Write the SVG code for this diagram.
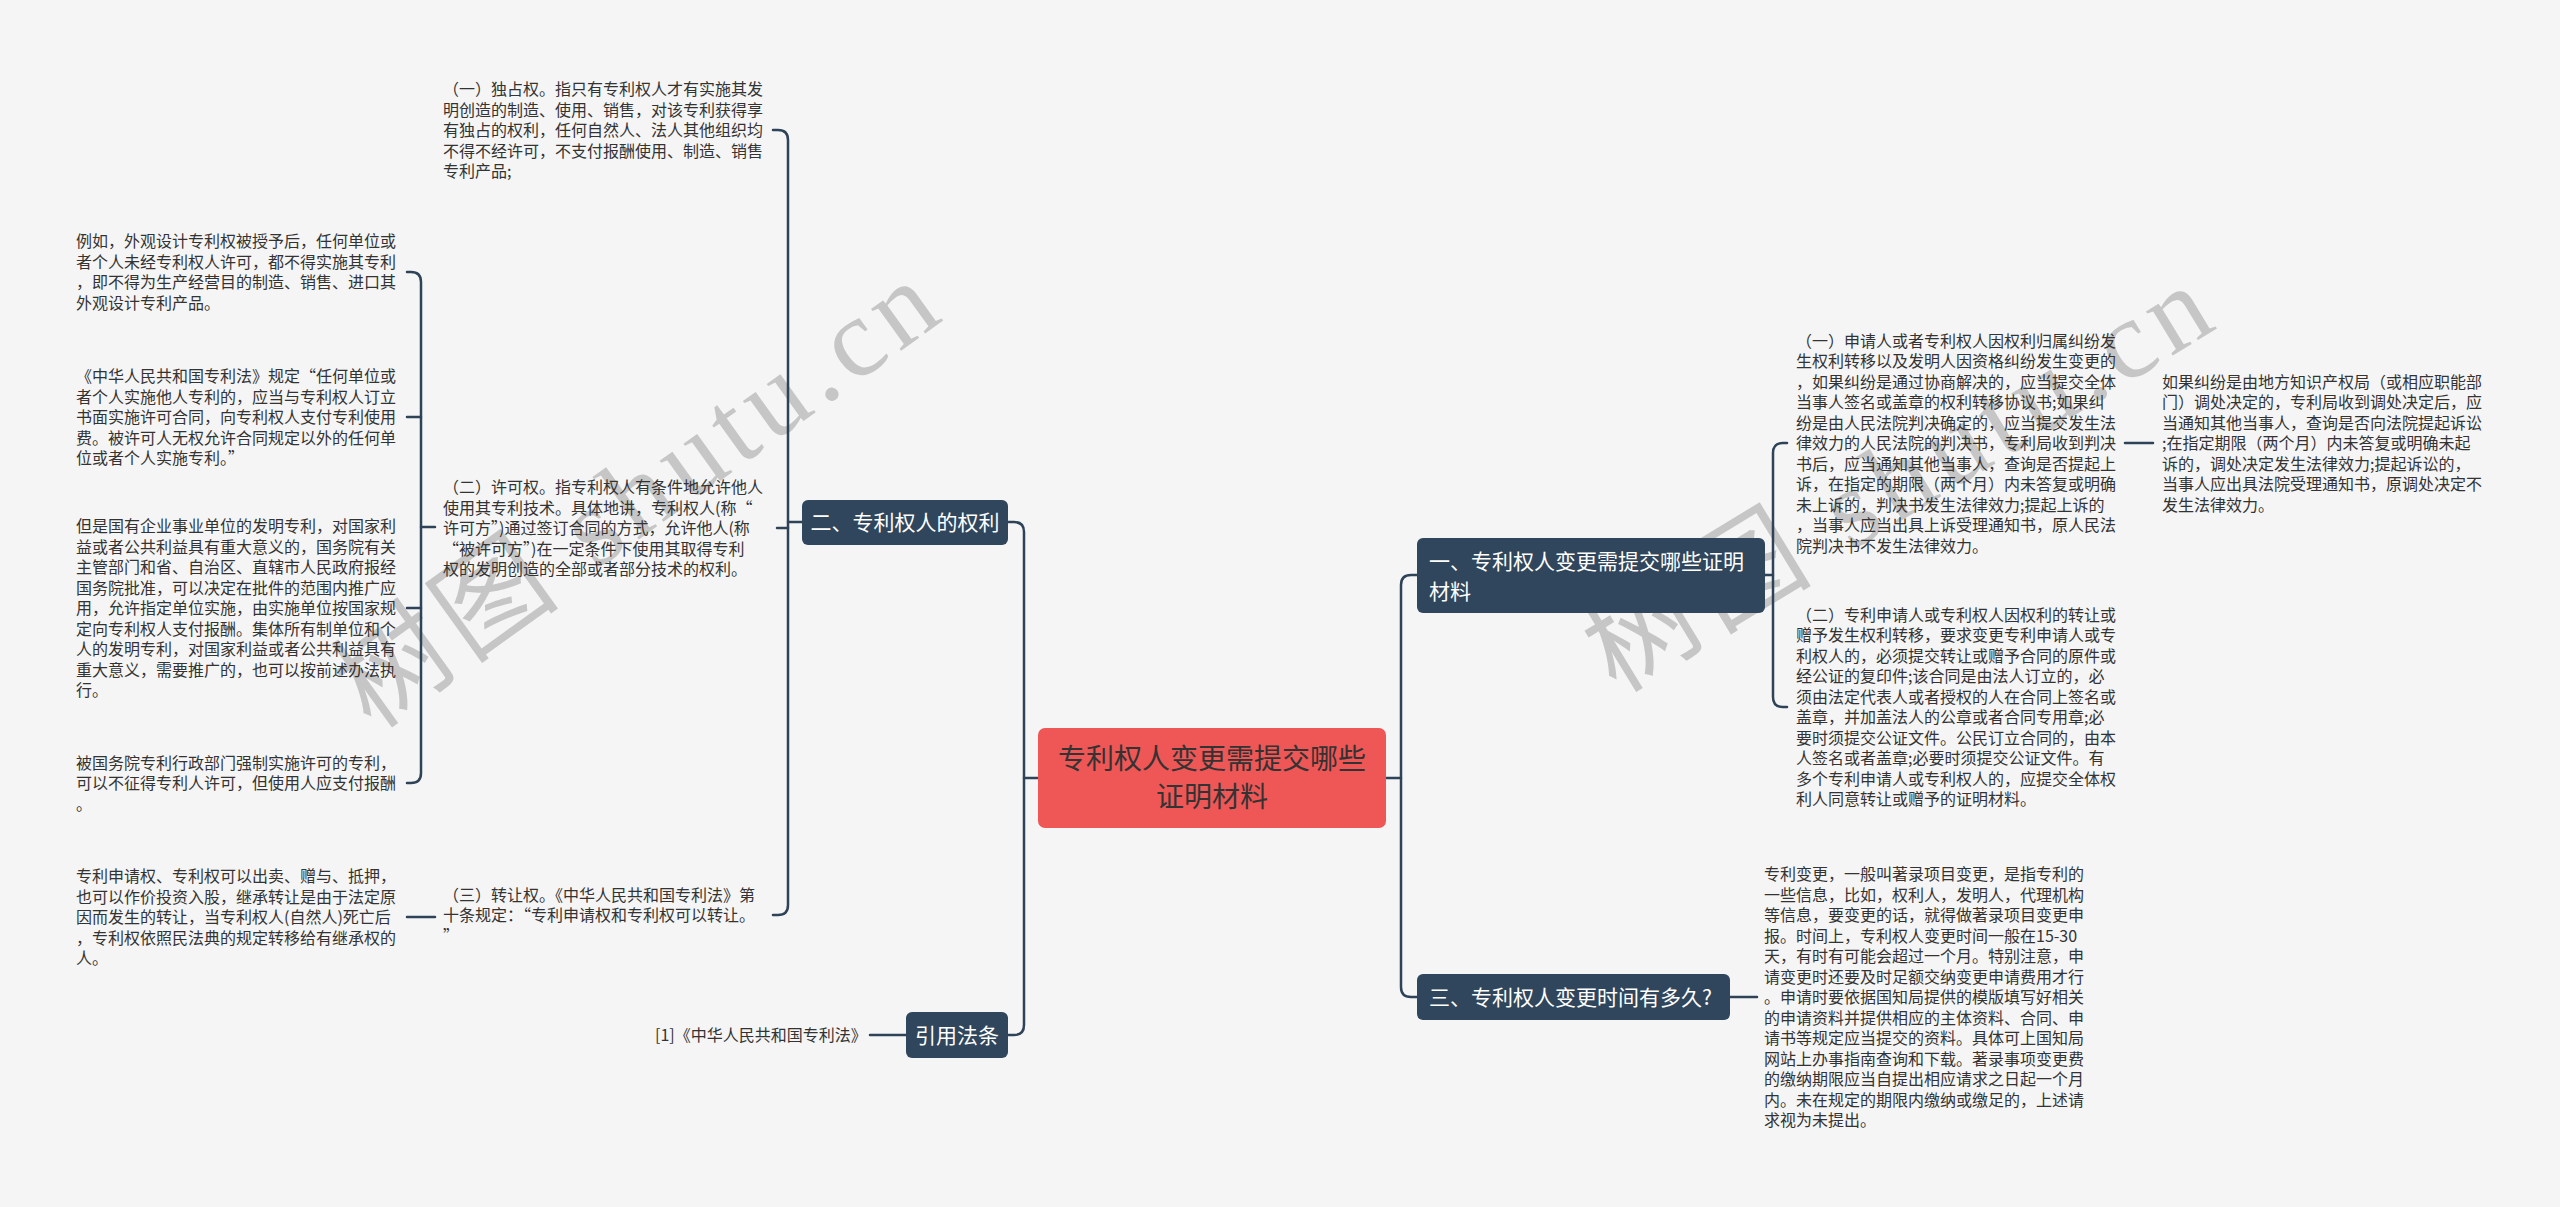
<svg xmlns="http://www.w3.org/2000/svg" width="2560" height="1207" viewBox="0 0 2560 1207">
<style>
.t{font-family:"Noto Sans CJK SC","Noto Sans",sans-serif;font-size:16px;fill:#333333}
.nt{font-family:"Noto Sans CJK SC","Noto Sans",sans-serif;font-size:21px;fill:#ffffff}
.ct{font-family:"Noto Sans CJK SC","Noto Sans",sans-serif;font-size:28px;fill:#333333}
.node{fill:#30465c}
.wm{font-family:"Liberation Serif","Noto Sans CJK SC",serif;font-size:112px;fill:#c6c6c6}
.c{fill:none;stroke:#2e4258;stroke-width:2.5;stroke-linecap:round}
</style>
<rect x="0" y="0" width="2560" height="1207" fill="#f5f5f6"/>
<g id="watermarks">
<text class="wm" transform="translate(372,731) rotate(-35.7)" textLength="705" lengthAdjust="spacing">树图 shutu.cn</text>
<text class="wm" transform="translate(1616,694) rotate(-31.3)" textLength="705" lengthAdjust="spacing">树图 shutu.cn</text>
</g>
<g id="connectors">
<path class="c" d="M1024,778 H1038"/>
<path class="c" d="M1008,522 H1014 Q1024,522 1024,532 V1025 Q1024,1035 1014,1035 H1008"/>
<path class="c" d="M1386,778 H1401"/>
<path class="c" d="M1417,575 H1411 Q1401,575 1401,585 V987 Q1401,997 1411,997 H1417"/>
<path class="c" d="M788,522 H802"/>
<path class="c" d="M773,130 H778 Q788,130 788,140 V905 Q788,915 778,915 H773"/>
<path class="c" d="M777,528 H788"/>
<path class="c" d="M407,272 H411 Q421,272 421,282 V773 Q421,783 411,783 H407"/>
<path class="c" d="M407,417 H421"/>
<path class="c" d="M407,608 H421"/>
<path class="c" d="M421,527 H435"/>
<path class="c" d="M407,917 H435"/>
<path class="c" d="M870,1035 H906"/>
<path class="c" d="M1765,575 H1773"/>
<path class="c" d="M1787,443 H1783 Q1773,443 1773,453 V697 Q1773,707 1783,707 H1787"/>
<path class="c" d="M2125,443 H2153"/>
<path class="c" d="M1730,997 H1757"/>
</g>
<g id="center">
<rect x="1038" y="728" width="348" height="100" rx="7" fill="#ef5656"/>
<text class="ct" text-anchor="middle"><tspan x="1212" y="769.4">专利权人变更需提交哪些</tspan><tspan x="1212" y="807.4">证明材料</tspan></text>
</g>
<g id="node-er">
<rect class="node" x="802" y="500" width="206" height="45" rx="6"/>
<text class="nt" x="905" y="529.7" text-anchor="middle">二、专利权人的权利</text>
</g>
<g id="node-yinyong">
<rect class="node" x="906" y="1012" width="102" height="46" rx="6"/>
<text class="nt" x="957" y="1042.7" text-anchor="middle">引用法条</text>
</g>
<g id="node-yi">
<rect class="node" x="1417" y="538" width="348" height="75" rx="6"/>
<text class="nt"><tspan x="1429" y="568.7">一、专利权人变更需提交哪些证明</tspan><tspan x="1429" y="598.7">材料</tspan></text>
</g>
<g id="node-san">
<rect class="node" x="1417" y="974" width="313" height="46" rx="6"/>
<text class="nt" x="1429" y="1004.7">三、专利权人变更时间有多久?</text>
</g>
<g id="text-duzhan">
<text class="t"><tspan x="443" y="95">（一）独占权。指只有专利权人才有实施其发</tspan><tspan x="443" y="115.5">明创造的制造、使用、销售，对该专利获得享</tspan><tspan x="443" y="136">有独占的权利，任何自然人、法人其他组织均</tspan><tspan x="443" y="156.5">不得不经许可，不支付报酬使用、制造、销售</tspan><tspan x="443" y="177">专利产品;</tspan></text>
</g>
<g id="text-xuke">
<text class="t"><tspan x="443" y="493">（二）许可权。指专利权人有条件地允许他人</tspan><tspan x="443" y="513.5">使用其专利技术。具体地讲，专利权人(称“</tspan><tspan x="443" y="534">许可方”)通过签订合同的方式，允许他人(称</tspan><tspan x="443" y="554.5">“被许可方”)在一定条件下使用其取得专利</tspan><tspan x="443" y="575">权的发明创造的全部或者部分技术的权利。</tspan></text>
</g>
<g id="text-zhuanrang">
<text class="t"><tspan x="443" y="900.5">（三）转让权。《中华人民共和国专利法》第</tspan><tspan x="443" y="921">十条规定：“专利申请权和专利权可以转让。</tspan><tspan x="443" y="941.5">”</tspan></text>
</g>
<g id="text-a">
<text class="t"><tspan x="76" y="247.25">例如，外观设计专利权被授予后，任何单位或</tspan><tspan x="76" y="267.75">者个人未经专利权人许可，都不得实施其专利</tspan><tspan x="76" y="288.25">，即不得为生产经营目的制造、销售、进口其</tspan><tspan x="76" y="308.75">外观设计专利产品。</tspan></text>
</g>
<g id="text-b">
<text class="t"><tspan x="76" y="382">《中华人民共和国专利法》规定“任何单位或</tspan><tspan x="76" y="402.5">者个人实施他人专利的，应当与专利权人订立</tspan><tspan x="76" y="423">书面实施许可合同，向专利权人支付专利使用</tspan><tspan x="76" y="443.5">费。被许可人无权允许合同规定以外的任何单</tspan><tspan x="76" y="464">位或者个人实施专利。”</tspan></text>
</g>
<g id="text-c">
<text class="t"><tspan x="76" y="532">但是国有企业事业单位的发明专利，对国家利</tspan><tspan x="76" y="552.5">益或者公共利益具有重大意义的，国务院有关</tspan><tspan x="76" y="573">主管部门和省、自治区、直辖市人民政府报经</tspan><tspan x="76" y="593.5">国务院批准，可以决定在批件的范围内推广应</tspan><tspan x="76" y="614">用，允许指定单位实施，由实施单位按国家规</tspan><tspan x="76" y="634.5">定向专利权人支付报酬。集体所有制单位和个</tspan><tspan x="76" y="655">人的发明专利，对国家利益或者公共利益具有</tspan><tspan x="76" y="675.5">重大意义，需要推广的，也可以按前述办法执</tspan><tspan x="76" y="696">行。</tspan></text>
</g>
<g id="text-d">
<text class="t"><tspan x="76" y="768.5">被国务院专利行政部门强制实施许可的专利，</tspan><tspan x="76" y="789">可以不征得专利人许可，但使用人应支付报酬</tspan><tspan x="76" y="809.5">。</tspan></text>
</g>
<g id="text-e">
<text class="t"><tspan x="76" y="882">专利申请权、专利权可以出卖、赠与、抵押，</tspan><tspan x="76" y="902.5">也可以作价投资入股，继承转让是由于法定原</tspan><tspan x="76" y="923">因而发生的转让，当专利权人(自然人)死亡后</tspan><tspan x="76" y="943.5">，专利权依照民法典的规定转移给有继承权的</tspan><tspan x="76" y="964">人。</tspan></text>
</g>
<g id="text-ref">
<text class="t" x="655" y="1041">[1]《中华人民共和国专利法》</text>
</g>
<g id="text-r1">
<text class="t"><tspan x="1796" y="346.5">（一）申请人或者专利权人因权利归属纠纷发</tspan><tspan x="1796" y="367">生权利转移以及发明人因资格纠纷发生变更的</tspan><tspan x="1796" y="387.5">，如果纠纷是通过协商解决的，应当提交全体</tspan><tspan x="1796" y="408">当事人签名或盖章的权利转移协议书;如果纠</tspan><tspan x="1796" y="428.5">纷是由人民法院判决确定的，应当提交发生法</tspan><tspan x="1796" y="449">律效力的人民法院的判决书，专利局收到判决</tspan><tspan x="1796" y="469.5">书后，应当通知其他当事人，查询是否提起上</tspan><tspan x="1796" y="490">诉，在指定的期限（两个月）内未答复或明确</tspan><tspan x="1796" y="510.5">未上诉的，判决书发生法律效力;提起上诉的</tspan><tspan x="1796" y="531">，当事人应当出具上诉受理通知书，原人民法</tspan><tspan x="1796" y="551.5">院判决书不发生法律效力。</tspan></text>
</g>
<g id="text-r1a">
<text class="t"><tspan x="2162" y="387.5">如果纠纷是由地方知识产权局（或相应职能部</tspan><tspan x="2162" y="408">门）调处决定的，专利局收到调处决定后，应</tspan><tspan x="2162" y="428.5">当通知其他当事人，查询是否向法院提起诉讼</tspan><tspan x="2162" y="449">;在指定期限（两个月）内未答复或明确未起</tspan><tspan x="2162" y="469.5">诉的，调处决定发生法律效力;提起诉讼的，</tspan><tspan x="2162" y="490">当事人应出具法院受理通知书，原调处决定不</tspan><tspan x="2162" y="510.5">发生法律效力。</tspan></text>
</g>
<g id="text-r2">
<text class="t"><tspan x="1796" y="620.75">（二）专利申请人或专利权人因权利的转让或</tspan><tspan x="1796" y="641.25">赠予发生权利转移，要求变更专利申请人或专</tspan><tspan x="1796" y="661.75">利权人的，必须提交转让或赠予合同的原件或</tspan><tspan x="1796" y="682.25">经公证的复印件;该合同是由法人订立的，必</tspan><tspan x="1796" y="702.75">须由法定代表人或者授权的人在合同上签名或</tspan><tspan x="1796" y="723.25">盖章，并加盖法人的公章或者合同专用章;必</tspan><tspan x="1796" y="743.75">要时须提交公证文件。公民订立合同的，由本</tspan><tspan x="1796" y="764.25">人签名或者盖章;必要时须提交公证文件。有</tspan><tspan x="1796" y="784.75">多个专利申请人或专利权人的，应提交全体权</tspan><tspan x="1796" y="805.25">利人同意转让或赠予的证明材料。</tspan></text>
</g>
<g id="text-r3">
<text class="t"><tspan x="1764" y="880">专利变更，一般叫著录项目变更，是指专利的</tspan><tspan x="1764" y="900.5">一些信息，比如，权利人，发明人，代理机构</tspan><tspan x="1764" y="921">等信息，要变更的话，就得做著录项目变更申</tspan><tspan x="1764" y="941.5">报。时间上，专利权人变更时间一般在15-30</tspan><tspan x="1764" y="962">天，有时有可能会超过一个月。特别注意，申</tspan><tspan x="1764" y="982.5">请变更时还要及时足额交纳变更申请费用才行</tspan><tspan x="1764" y="1003">。申请时要依据国知局提供的模版填写好相关</tspan><tspan x="1764" y="1023.5">的申请资料并提供相应的主体资料、合同、申</tspan><tspan x="1764" y="1044">请书等规定应当提交的资料。具体可上国知局</tspan><tspan x="1764" y="1064.5">网站上办事指南查询和下载。著录事项变更费</tspan><tspan x="1764" y="1085">的缴纳期限应当自提出相应请求之日起一个月</tspan><tspan x="1764" y="1105.5">内。未在规定的期限内缴纳或缴足的，上述请</tspan><tspan x="1764" y="1126">求视为未提出。</tspan></text>
</g>
</svg>
